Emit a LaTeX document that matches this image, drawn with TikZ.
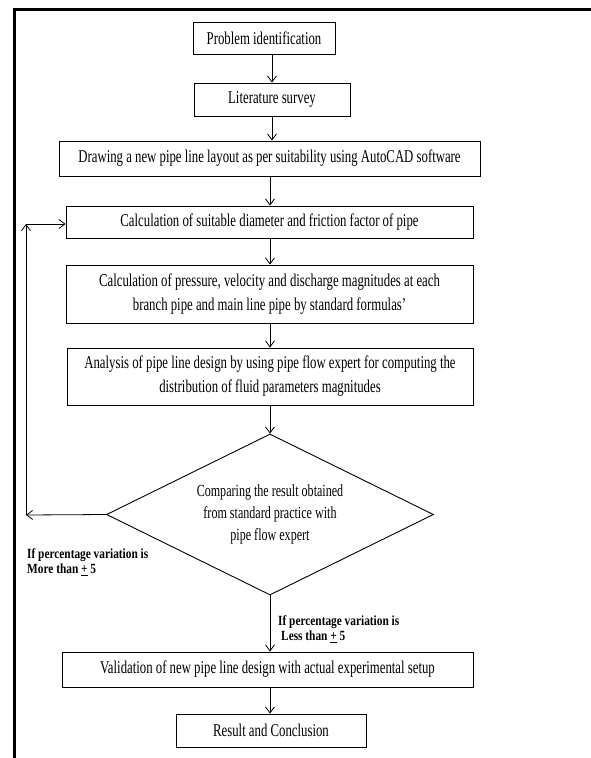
\documentclass[tikz,border=0pt]{standalone}
\usepackage{fontspec}
\setmainfont[FakeStretch=0.71]{Liberation Serif}
\newfontfamily\labfont[FakeStretch=0.81]{Liberation Serif}
\usetikzlibrary{arrows.meta,shapes.geometric}
\begin{document}
\begin{tikzpicture}[x=1pt,y=-1pt,
  box/.style={draw,line width=0.9pt,inner sep=0pt,align=center,font=\fontsize{18}{24}\selectfont},
  arr/.style={line width=0.8pt,-{Straight Barb[length=6pt,width=9pt]}},
  lab/.style={inner sep=0pt,align=left,anchor=west,font=\labfont\fontsize{14}{15}\selectfont\bfseries}]
\useasboundingbox (0,0) rectangle (591,758);
\fill[white] (0,0) rectangle (591,758);
\draw[line width=2.2pt] (14.5,800) -- (14.5,9.5) -- (620,9.5);
\node[box,minimum width=142pt,minimum height=32pt] (b1) at (264,38) {Problem identification};
\node[box,minimum width=156pt,minimum height=33pt] (b2) at (272,99.5) {Literature survey};
\node[box,minimum width=421pt,minimum height=35pt] (b3) at (269.5,158.5) {Drawing a new pipe line layout as per suitability using AutoCAD software};
\node[box,minimum width=407pt,minimum height=32pt] (b4) at (269.5,222) {Calculation of suitable diameter and friction factor of pipe};
\node[box,minimum width=407pt,minimum height=58pt] (b5) at (269.5,294) {Calculation of pressure, velocity and discharge magnitudes at each\\branch pipe and main line pipe by standard formulas’};
\node[box,minimum width=406pt,minimum height=57pt] (b6) at (270,376.5) {Analysis of pipe line design by using pipe flow expert for computing the\\distribution of fluid parameters magnitudes};
\node[box,diamond,aspect=2.03,minimum width=327pt,minimum height=161pt,font=\fontsize{17}{22}\selectfont] (d) at (270,514.5) {Comparing the result obtained\\from standard practice with\\pipe flow expert};
\node[box,minimum width=411pt,minimum height=35pt] (b7) at (267.5,669.5) {Validation of new pipe line design with actual experimental setup};
\node[box,minimum width=190pt,minimum height=33pt] (b8) at (271,730.5) {Result and Conclusion};
\coordinate (c1) at (26,515);
\coordinate (c2) at (26,224);
\draw[arr] (b1.south -| b2.north) -- (b2.north);
\draw[arr] (b2.south) -- (b3.north -| b2.south);
\draw[arr] (b3.south -| d.north) -- (b4.north -| d.north);
\draw[arr] (b4.south -| d.north) -- (b5.north -| d.north);
\draw[arr] (b5.south -| d.north) -- (b6.north -| d.north);
\draw[arr] (b6.south -| d.north) -- (d.north);
\draw[arr] (d.south) -- (b7.north -| d.south);
\draw[arr] (b7.south -| d.south) -- (b8.north -| d.south);
\draw[arr] (d.west) -- (c1);
\draw[arr] (c1) -- (c2);
\draw[arr] (c2) -- (c2 -| b4.west);
\node[lab] (l1) at (27,562.5) {If percentage variation is\\More than \underline{+} 5};
\node[lab] (l2) at (278,629.5) {If percentage variation is\\\hspace{3pt}Less than \underline{+} 5};
\end{tikzpicture}
\end{document}
